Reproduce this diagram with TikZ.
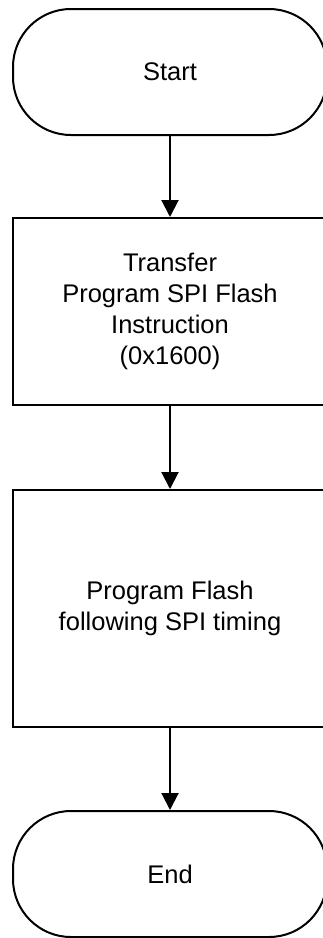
\documentclass[tikz,border=0pt]{standalone}
\usepackage{fontspec}
\setmainfont{Liberation Sans}
\usetikzlibrary{arrows.meta}

\begin{document}
\begin{tikzpicture}[x=1pt, y=-1pt,
	every node/.style={font=\fontsize{25.5}{31}\selectfont, align=center},
	term/.style={draw, line width=2pt, rounded corners=58pt, minimum width=314pt, minimum height=126pt, inner sep=0pt},
	stepbox/.style={draw, line width=2pt, minimum width=314pt, inner sep=0pt},
	flow/.style={-{Triangle[length=17pt, width=17pt]}, line width=2pt}]
	\useasboundingbox (0, 0) rectangle (323, 938);
	\node [term] (start) at (170, 72) {Start};
	\node [stepbox, minimum height=187pt] (xfer) at (170, 311.5) {Transfer\\Program SPI Flash\\Instruction\\(0x1600)};
	\node [stepbox, minimum height=237pt] (prog) at (170, 608.5) {Program Flash\\following SPI timing};
	\node [term] (end) at (170, 874) {End};
	\draw [flow] (start) -- (xfer);
	\draw [flow] (xfer) -- (prog);
	\draw [flow] (prog) -- (end);
\end{tikzpicture}
\end{document}
